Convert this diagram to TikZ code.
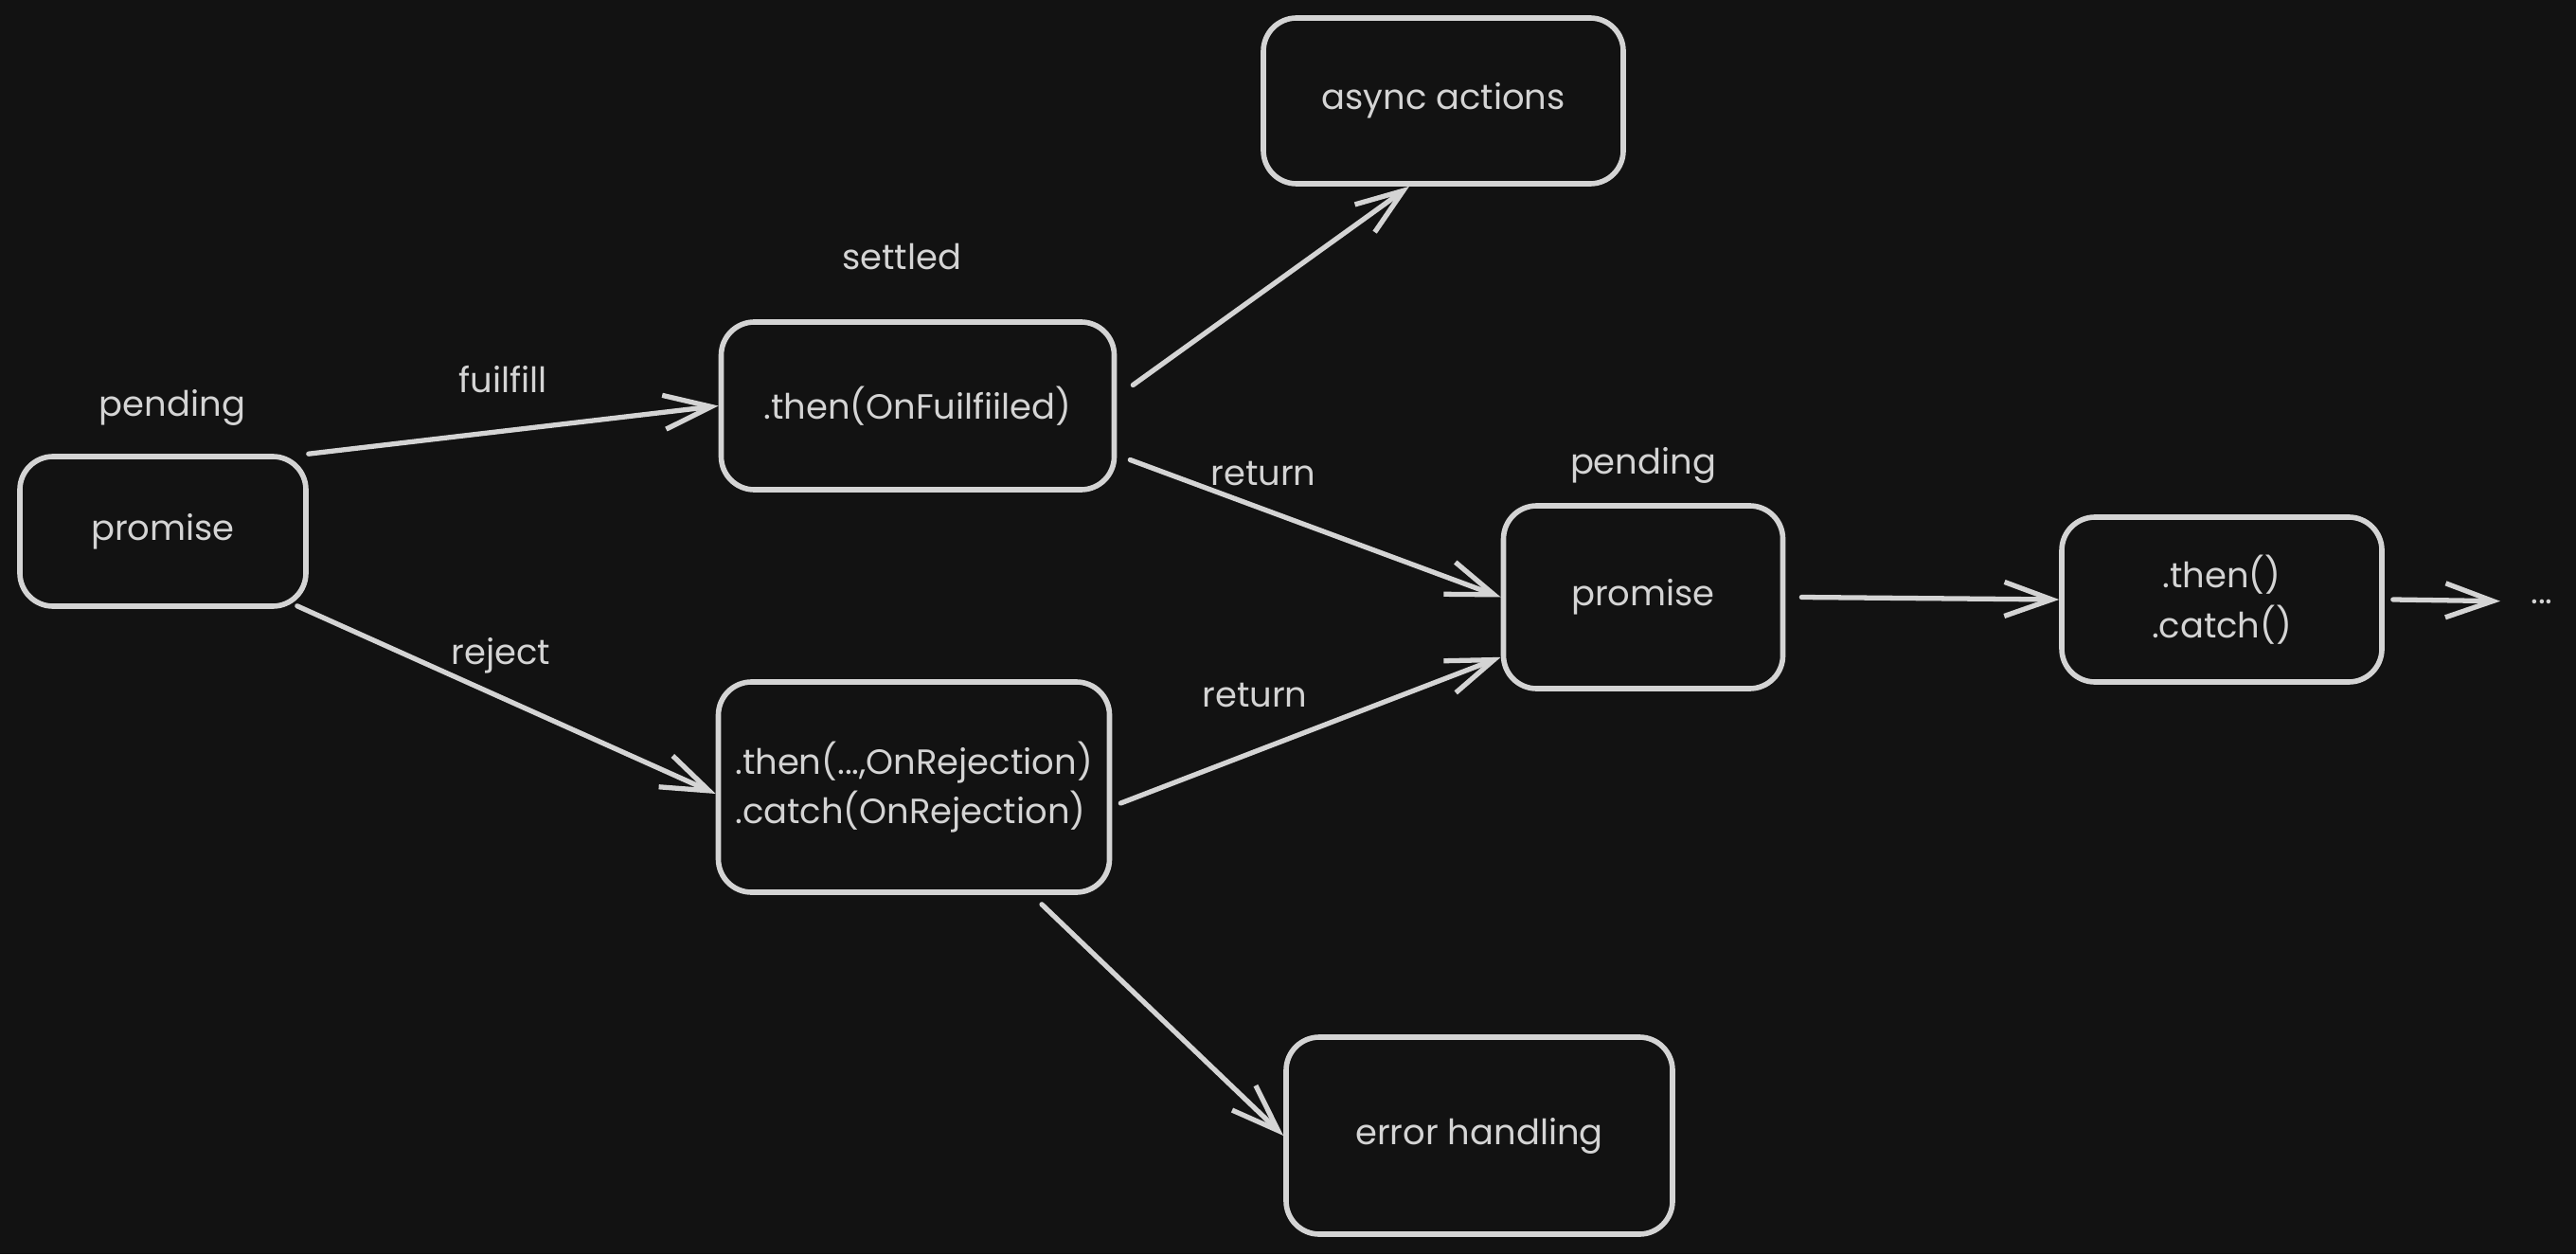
\documentclass[tikz,border=0pt]{standalone}
\usepackage{fontspec}
\setmainfont{Poppins}
\usetikzlibrary{arrows.meta}

\definecolor{bgdark}{HTML}{121212}
\definecolor{inkgray}{HTML}{D4D4D4}

\tikzset{
    flow box/.style={
      draw=inkgray,
      line width=1.6pt,
      rounded corners=0.35cm,
      text=inkgray,
      font=\fontsize{10.5}{15}\selectfont,
      align=center,
      inner sep=0pt
    },
    flow arrow/.style={
      draw=inkgray,
      line width=1.5pt,
      line cap=round,
      -{Straight Barb[length=5mm,width=3.6mm,line width=1.5pt]}
    },
    flow label/.style={
      text=inkgray,
      font=\fontsize{10.5}{15}\selectfont
    }
  }

\begin{document}
\begin{tikzpicture}
      % background
      \useasboundingbox[fill=bgdark] (0,0) rectangle (27.2,13.24);

      % boxes
      \node[flow box, minimum width=3.02cm, minimum height=1.58cm] (p1) at (1.72,7.63) {promise};
      \node[flow box, minimum width=4.15cm, minimum height=1.77cm] (then) at (9.69,8.955) {.then(OnFuilfiiled)};
      \node[flow box, minimum width=4.13cm, minimum height=2.22cm, align=left] (catch) at (9.65,4.93) {.then(...,OnRejection)\\.catch(OnRejection)};
      \node[flow box, minimum width=3.80cm, minimum height=1.75cm] (async) at (15.24,12.175) {async actions};
      \node[flow box, minimum width=2.95cm, minimum height=1.93cm] (p2) at (17.35,6.935) {promise};
      \node[flow box, minimum width=3.38cm, minimum height=1.74cm] (tc) at (23.46,6.91) {.then()\\.catch()};
      \node[flow box, minimum width=4.08cm, minimum height=2.08cm] (err) at (15.62,1.25) {error handling};
      \node[flow label] (dots) at (26.84,6.89) {...};

      % labels
      \node[flow label] (pend1) at (1.82,8.94) {pending};
      \node[flow label] (settled) at (9.52,10.53) {settled};
      \node[flow label] (pend2) at (17.35,8.33) {pending};
      \node[flow label] (fuil) at (5.31,9.23) {fuilfill};
      \node[flow label] (rej) at (5.29,6.32) {reject};
      \node[flow label] (ret1) at (13.34,8.24) {return};
      \node[flow label] (ret2) at (13.25,5.90) {return};

      % arrows
      \draw[flow arrow] (p1.north east) -- (then.west);
      \draw[flow arrow] ([shift={(-0.12cm,0.03cm)}]p1.south east) -- ([yshift=-0.07cm]catch.west);
      \draw[flow arrow] ([shift={(0.17cm,0.22cm)}]then.east) -- ([xshift=-0.36cm]async.south);
      \draw[flow arrow] ([shift={(0.14cm,-0.57cm)}]then.east) -- (p2.west);
      \draw[flow arrow] ([shift={(0.09cm,-0.17cm)}]catch.east) -- ([yshift=0.36cm]p2.south west);
      \draw[flow arrow] ([shift={(1.35cm,-0.1cm)}]catch.south) -- (err.west);
      \draw[flow arrow] ([xshift=0.17cm]p2.east) -- (tc.west);
      \draw[flow arrow, shorten >=0.2cm] ([xshift=0.09cm]tc.east) -- (dots.west);
    \end{tikzpicture}
\end{document}
